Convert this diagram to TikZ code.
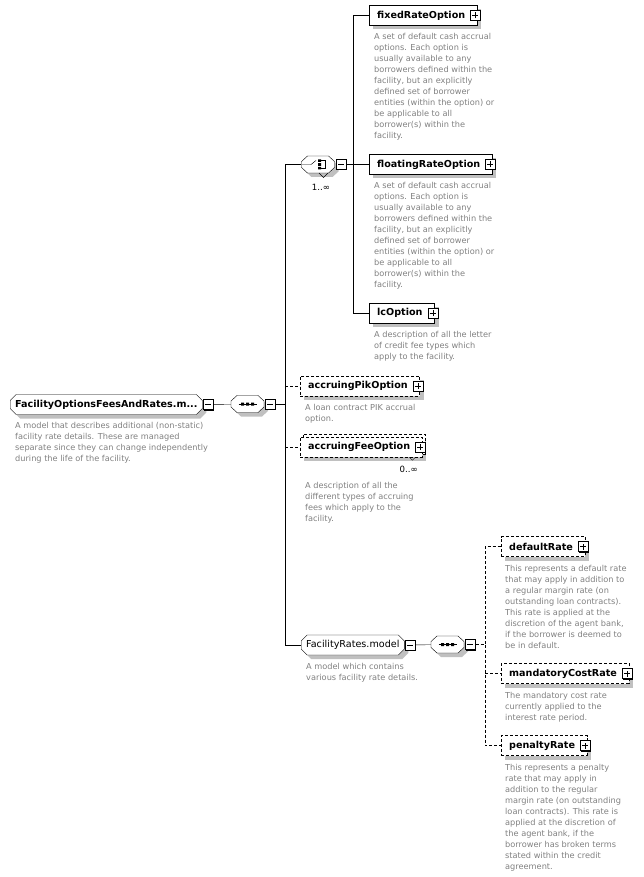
\documentclass[tikz,border=0pt]{standalone}
\usepackage{fontspec}
\setmainfont{DejaVu Sans}
\usetikzlibrary{shapes.misc,shadows,positioning}

\definecolor{descgray}{RGB}{128,128,128}
\definecolor{shadowgray}{RGB}{192,192,192}

\tikzset{
  shade4/.style={drop shadow={shadow xshift=4pt,shadow yshift=-4pt,fill=shadowgray,opacity=1}},
  elem/.style={draw,fill=white,anchor=west,minimum height=20pt,inner xsep=8pt,
    font=\fontsize{9.6}{11}\selectfont\bfseries,shade4,
    execute at end node={\hspace*{4pt}}},
  optelem/.style={elem,dash pattern=on 3pt off 2pt},
  group/.style={chamfered rectangle,chamfered rectangle xsep=3pt,chamfered rectangle ysep=3pt,
    draw,fill=white,anchor=west,minimum height=20pt,inner xsep=2pt,inner ysep=1pt,shade4,
    font=\fontsize{9.6}{11}\selectfont},
  compositor/.style={minimum width=33pt,minimum height=17pt,inner sep=0pt},
  octo/.pic={
    \fill[shadowgray] (-12.5,1) -- (-6.5,-4.5) -- (14.5,-4.5) -- (20.5,1) -- (20.5,7) -- (14.5,12.5) -- (-6.5,12.5) -- (-12.5,7) -- cycle;
    \filldraw[fill=white] (-16.5,-3) -- (-10.5,-8.5) -- (10.5,-8.5) -- (16.5,-3) -- (16.5,3) -- (10.5,8.5) -- (-10.5,8.5) -- (-16.5,3) -- cycle;
  },
  pmbox/.style={draw,fill=white,minimum size=10pt,inner sep=0pt,
    drop shadow={shadow xshift=1pt,shadow yshift=-1pt,fill=black,opacity=1}},
  plusbox/.style={pmbox,path picture={\draw (path picture bounding box.center) +(-3pt,0) -- +(3pt,0)
    (path picture bounding box.center) +(0,-3pt) -- +(0,3pt);}},
  minusbox/.style={pmbox,path picture={\draw (path picture bounding box.center) +(-3pt,0) -- +(3pt,0);}},
  desc/.style={align=left,inner sep=0pt,text=descgray,font=\fontsize{8.2}{11}\selectfont},
  occurs/.style={inner sep=0pt,font=\fontsize{8.6}{10}\selectfont},
  opt/.style={dash pattern=on 3pt off 2pt}
}

\begin{document}
\begin{tikzpicture}[x=1pt,y=-1pt]
\useasboundingbox (0,0) rectangle (644,877);

% root group and its sequence
\node (root) [group,font=\fontsize{9.6}{11}\selectfont\bfseries] at (10,404.5) {FacilityOptionsFeesAndRates.m...};
\node (rootm) [minusbox,right=0pt of root] {};
\node (rootd) [desc,below right=18pt and 5pt of root.west] {A model that describes additional (non-static)\\facility rate details. These are managed\\separate since they can change independently\\during the life of the facility.};

\node (seq) [compositor] at (247.5,404) {};
\pic at (seq.center) {octo};
\node (seqm) [minusbox,right=1pt of seq] {};
\begin{scope}[shift={(seq.center)}]
\draw (-9,0) -- (9,0);
\fill (-6.5,-1.5) rectangle (-3.5,1.5) (-1.5,-1.5) rectangle (1.5,1.5) (3.5,-1.5) rectangle (6.5,1.5);
\end{scope}
\draw (rootm) -- (seq);
\coordinate (seqt) at (285,404);

% choice
\node (choice) [compositor] at (318,164.5) {};
\pic at (choice.center) {octo};
\draw (319,173) -- (323.5,177.5) -- (328,173);
\node (choicem) [minusbox,right=1pt of choice] {};
\begin{scope}[shift={(choice.center)}]
\draw (-16.5,0) -- (-7,0) -- (-2,-4);
\fill (0,-5) rectangle (3,-2.5) (0,-1.3) rectangle (3,1.3) (0,2.5) rectangle (3,5);
\draw (3,-4) -- (7,-4) -- (7,4) -- (3,4);
\end{scope}
\node (choiceocc) [occurs] at (321,187.5) {1..∞};
\coordinate (chot) at (353,164.5);

\node (fixed) [elem] at (369,15.5) {fixedRateOption};
\node (fixedp) [plusbox] at ([xshift=-2pt]fixed.east) {};
\node (fixedd) [desc,below right=18pt and 5pt of fixed.west] {A set of default cash accrual\\options. Each option is\\usually available to any\\borrowers defined within the\\facility, but an explicitly\\defined set of borrower\\entities (within the option) or\\be applicable to all\\borrower(s) within the\\facility.};

\node (floating) [elem] at (369,164.5) {floatingRateOption};
\node (floatingp) [plusbox] at ([xshift=-2pt]floating.east) {};
\node (floatingd) [desc,below right=18pt and 5pt of floating.west] {A set of default cash accrual\\options. Each option is\\usually available to any\\borrowers defined within the\\facility, but an explicitly\\defined set of borrower\\entities (within the option) or\\be applicable to all\\borrower(s) within the\\facility.};

\node (lc) [elem] at (369,313) {lcOption};
\node (lcp) [plusbox] at ([xshift=-2pt]lc.east) {};
\node (lcd) [desc,below right=18pt and 5pt of lc.west] {A description of all the letter\\of credit fee types which\\apply to the facility.};

\draw (choicem) -- (chot) |- (fixed);
\draw (chot) -- (floating);
\draw (chot) |- (lc);

% optional elements
\node (pik) [optelem] at (300,386) {accruingPikOption};
\node (pikp) [plusbox] at ([xshift=-2pt]pik.east) {};
\node (pikd) [desc,below right=18pt and 5pt of pik.west] {A loan contract PIK accrual\\option.};

\node (fee) [optelem,copy shadow={shadow xshift=3pt,shadow yshift=3pt}] at (300,447) {accruingFeeOption};
\node (feep) [plusbox] at ([xshift=-2pt]fee.east) {};
\draw ([xshift=-13pt]fee.south east) -- ++(3,3) -- ++(3,-3);
\node (feeocc) [occurs,anchor=east] at (418,469.5) {0..∞};
\node (feed) [desc,below right=35pt and 5pt of fee.west] {A description of all the\\different types of accruing\\fees which apply to the\\facility.};

% FacilityRates group
\node (rates) [group] at (301,645) {FacilityRates.model};
\node (ratesm) [minusbox,right=0pt of rates] {};
\node (ratesd) [desc,below right=18pt and 5pt of rates.west] {A model which contains\\various facility rate details.};

\node (rseq) [compositor] at (447.5,644.5) {};
\pic at (rseq.center) {octo};
\node (rseqm) [minusbox,right=1pt of rseq] {};
\begin{scope}[shift={(rseq.center)}]
\draw (-9,0) -- (9,0);
\fill (-6.5,-1.5) rectangle (-3.5,1.5) (-1.5,-1.5) rectangle (1.5,1.5) (3.5,-1.5) rectangle (6.5,1.5);
\end{scope}
\draw (ratesm) -- (rseq);
\coordinate (rseqt) at (485,644.5);

\node (default) [optelem] at (501,546.5) {defaultRate};
\node (defaultp) [plusbox] at ([xshift=-2pt]default.east) {};
\node (defaultd) [desc,below right=18.5pt and 4pt of default.west] {This represents a default rate\\that may apply in addition to\\a regular margin rate (on\\outstanding loan contracts).\\This rate is applied at the\\discretion of the agent bank,\\if the borrower is deemed to\\be in default.};

\node (mandatory) [optelem] at (501,673.5) {mandatoryCostRate};
\node (mandatoryp) [plusbox] at ([xshift=-2pt]mandatory.east) {};
\node (mandatoryd) [desc,below right=18.5pt and 4pt of mandatory.west] {The mandatory cost rate\\currently applied to the\\interest rate period.};

\node (penalty) [optelem] at (501,745.5) {penaltyRate};
\node (penaltyp) [plusbox] at ([xshift=-2pt]penalty.east) {};
\node (penaltyd) [desc,below right=18.5pt and 4pt of penalty.west] {This represents a penalty\\rate that may apply in\\addition to the regular\\margin rate (on outstanding\\loan contracts). This rate is\\applied at the discretion of\\the agent bank, if the\\borrower has broken terms\\stated within the credit\\agreement.};

\draw[opt] (rseqm) -- (rseqt) |- (default);
\draw[opt] (rseqt) |- (penalty);
\draw[opt] (rseqt |- mandatory) -- (mandatory);

% main trunk
\draw (seqm) -- (seqt) |- (choice);
\draw (seqt) |- (rates);
\draw[opt] (seqt |- pik) -- (pik);
\draw[opt] (seqt |- fee) -- (fee);

\end{tikzpicture}
\end{document}
